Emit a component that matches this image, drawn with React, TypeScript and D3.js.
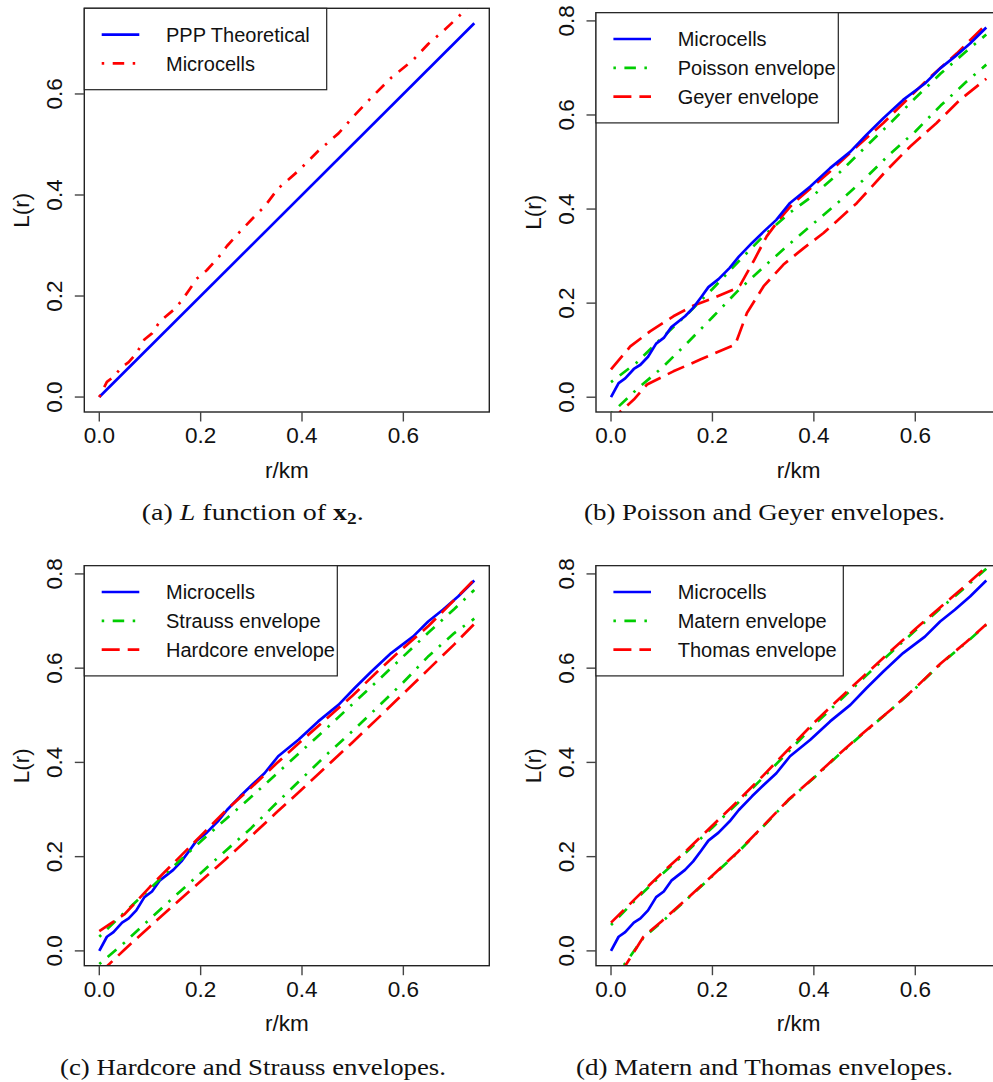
import React from 'react';
import * as d3 from 'd3';

const W = 993;
const H = 1082;
const BLUE = '#0000FF';
const RED = '#FF0000';
const GREEN = '#00CD00';
const SOLID = 'none';
const DOTDASH = '2.5,8.5,11.5,8.5';
const LONGDASH = '18,8';
const SANS = '"Liberation Sans", Arial, Helvetica, sans-serif';
const SERIF = '"Liberation Serif", "Times New Roman", serif';

// ---- tick values / labels ----
const xTicks = [0, 0.2, 0.4, 0.6];
const xTickLabels = ['0.0', '0.2', '0.4', '0.6'];
const yTicksA = [0, 0.2, 0.4, 0.6];
const yTickLabelsA = ['0.0', '0.2', '0.4', '0.6'];
const yTicksBCD = [0, 0.2, 0.4, 0.6, 0.8];
const yTickLabelsBCD = ['0.0', '0.2', '0.4', '0.6', '0.8'];

// ---- data ----
const pppR = [0, 0.74];
const pppL = [0, 0.74];

const microcellsR = [0, 0.015, 0.028, 0.045, 0.058, 0.073, 0.089, 0.104, 0.119, 0.146, 0.162, 0.178, 0.192, 0.212, 0.234, 0.252, 0.278, 0.301, 0.326, 0.353, 0.393, 0.432, 0.472, 0.504, 0.537, 0.576, 0.619, 0.649, 0.678, 0.708, 0.74];
const microcellsL = [0, 0.030, 0.040, 0.060, 0.069, 0.086, 0.114, 0.126, 0.149, 0.172, 0.190, 0.213, 0.234, 0.251, 0.275, 0.299, 0.328, 0.352, 0.377, 0.413, 0.448, 0.487, 0.522, 0.558, 0.593, 0.632, 0.667, 0.699, 0.724, 0.752, 0.786];

const rGrid = [0, 0.05, 0.1, 0.15, 0.2, 0.25, 0.3, 0.35, 0.4, 0.45, 0.5, 0.55, 0.6, 0.65, 0.7, 0.74];

// (b) Poisson & Geyer
const poissonUpper = [0.032, 0.073, 0.126, 0.176, 0.230, 0.287, 0.342, 0.390, 0.430, 0.477, 0.530, 0.582, 0.636, 0.688, 0.735, 0.771];
const poissonLower = [-0.035, 0.016, 0.062, 0.115, 0.170, 0.226, 0.276, 0.324, 0.370, 0.416, 0.464, 0.517, 0.565, 0.620, 0.670, 0.707];
const geyerUpperR = [0, 0.038, 0.077, 0.123, 0.163, 0.202, 0.242, 0.255, 0.281, 0.307, 0.334, 0.360, 0.432, 0.485, 0.537, 0.583, 0.629, 0.682, 0.74];
const geyerUpperL = [0.059, 0.108, 0.140, 0.172, 0.195, 0.211, 0.229, 0.239, 0.289, 0.342, 0.381, 0.413, 0.480, 0.533, 0.583, 0.632, 0.680, 0.731, 0.793];
const geyerLowerR = [0, 0.018, 0.045, 0.071, 0.123, 0.176, 0.245, 0.268, 0.301, 0.340, 0.380, 0.419, 0.485, 0.544, 0.590, 0.642, 0.688, 0.74];
const geyerLowerL = [-0.060, -0.031, -0.005, 0.027, 0.055, 0.080, 0.112, 0.179, 0.236, 0.282, 0.317, 0.349, 0.413, 0.483, 0.533, 0.583, 0.632, 0.677];

// (c) Strauss & Hardcore
const straussUpper = [0.030, 0.082, 0.132, 0.183, 0.232, 0.280, 0.327, 0.376, 0.425, 0.474, 0.524, 0.574, 0.625, 0.676, 0.725, 0.766];
const straussLower = [-0.028, 0.018, 0.068, 0.117, 0.165, 0.213, 0.261, 0.314, 0.366, 0.418, 0.467, 0.518, 0.570, 0.626, 0.674, 0.705];
const hardcoreUpper = [0.042, 0.078, 0.136, 0.190, 0.244, 0.298, 0.347, 0.398, 0.447, 0.494, 0.542, 0.594, 0.643, 0.690, 0.744, 0.788];
const hardcoreLower = [-0.048, 0.003, 0.052, 0.100, 0.148, 0.195, 0.244, 0.294, 0.343, 0.393, 0.443, 0.494, 0.546, 0.598, 0.650, 0.694];

// (d) Matern & Thomas
const thomasUpper = [0.060, 0.113, 0.165, 0.214, 0.266, 0.318, 0.372, 0.428, 0.484, 0.535, 0.585, 0.635, 0.683, 0.730, 0.776, 0.815];
const maternUpper = [0.055, 0.110, 0.162, 0.211, 0.262, 0.314, 0.368, 0.423, 0.479, 0.530, 0.581, 0.631, 0.680, 0.727, 0.773, 0.811];
const thomasLowerR = [0, 0.02, 0.035, 0.064, 0.1, 0.15, 0.2, 0.25, 0.3, 0.35, 0.4, 0.45, 0.5, 0.55, 0.6, 0.65, 0.7, 0.74];
const thomasLowerL = [-0.10, -0.045, -0.020, 0.030, 0.063, 0.111, 0.160, 0.210, 0.265, 0.321, 0.368, 0.418, 0.465, 0.510, 0.558, 0.610, 0.655, 0.693];
const maternLowerR = [0, 0.025, 0.064, 0.1, 0.15, 0.2, 0.25, 0.3, 0.35, 0.4, 0.45, 0.5, 0.55, 0.6, 0.65, 0.7, 0.74];
const maternLowerL = [-0.09, -0.031, 0.028, 0.061, 0.110, 0.159, 0.209, 0.264, 0.320, 0.367, 0.417, 0.464, 0.510, 0.557, 0.609, 0.654, 0.692];

type Series = { r: number[]; L: number[]; color: string; dash: string };
type LegendItem = { label: string; color: string; dash: string };
type Box = { l: number; t: number; r: number; b: number };

const pad = (lo: number, hi: number) => {
  const d = hi - lo;
  return [lo - 0.04 * d, hi + 0.04 * d];
};

function Panel(props: {
  id: string;
  box: Box;
  yData: [number, number];
  yTicks: number[];
  yTickLabels: string[];
  series: Series[];
  legend: LegendItem[];
  legendW: number;
}) {
  const { id, box, yData, yTicks, yTickLabels, series, legend, legendW } = props;
  const x = d3.scaleLinear().domain(pad(0, 0.74)).range([box.l, box.r]);
  const y = d3.scaleLinear().domain(pad(yData[0], yData[1])).range([box.b, box.t]);
  const line = (s: Series) =>
    d3
      .line<number>()
      .x((_, i) => x(s.r[i]))
      .y((v) => y(v))(s.L) || '';
  const axisColor = '#222';
  const legendH = 26.3 * 2 + (legend.length - 1) * 28.8;
  const cy = (box.t + box.b) / 2;
  const cx = (box.l + box.r) / 2;
  return (
    <g>
      <defs>
        <clipPath id={`clip-${id}`}>
          <rect x={box.l} y={box.t} width={box.r - box.l} height={box.b - box.t} />
        </clipPath>
      </defs>
      <g clipPath={`url(#clip-${id})`}>
        {series.map((s, i) => (
          <path
            key={i}
            d={line(s)}
            fill="none"
            stroke={s.color}
            strokeWidth={2.7}
            strokeDasharray={s.dash}
            strokeLinejoin="round"
          />
        ))}
      </g>
      <rect x={box.l} y={box.t} width={box.r - box.l} height={box.b - box.t} fill="none" stroke={axisColor} strokeWidth={1.4} />
      {xTicks.map((v, i) => (
        <g key={`xt${i}`}>
          <line x1={x(v)} x2={x(v)} y1={box.b} y2={box.b + 9.5} stroke="#444" strokeWidth={1.4} />
          <text x={x(v)} y={box.b + 31.3} textAnchor="middle" fontFamily={SANS} fontSize={22.5} fill="#111">
            {xTickLabels[i]}
          </text>
        </g>
      ))}
      {yTicks.map((v, i) => (
        <g key={`yt${i}`}>
          <line x1={box.l} x2={box.l - 9.5} y1={y(v)} y2={y(v)} stroke="#444" strokeWidth={1.4} />
          <text
            transform={`translate(${box.l - 22.5},${y(v)}) rotate(-90)`}
            textAnchor="middle"
            fontFamily={SANS}
            fontSize={22.5}
            fill="#111"
          >
            {yTickLabels[i]}
          </text>
        </g>
      ))}
      <text x={cx} y={box.b + 65.5} textAnchor="middle" fontFamily={SANS} fontSize={22.5} fill="#111">
        r/km
      </text>
      <text
        transform={`translate(${box.l - 55.5},${cy}) rotate(-90)`}
        textAnchor="middle"
        fontFamily={SANS}
        fontSize={22.5}
        fill="#111"
      >
        L(r)
      </text>
      <rect x={box.l} y={box.t} width={legendW} height={legendH} fill="white" stroke={axisColor} strokeWidth={1.2} />
      {legend.map((it, i) => {
        const ry = box.t + 26.3 + i * 28.8;
        return (
          <g key={`lg${i}`}>
            <line
              x1={box.l + 17.4}
              x2={box.l + 55}
              y1={ry}
              y2={ry}
              stroke={it.color}
              strokeWidth={2.7}
              strokeDasharray={it.dash}
            />
            <text x={box.l + 81.7} y={ry + 7.3} fontFamily={SANS} fontSize={20} fill="#111">
              {it.label}
            </text>
          </g>
        );
      })}
    </g>
  );
}

export default function App() {
  const micro = (color: string, dash: string): Series => ({ r: microcellsR, L: microcellsL, color, dash });
  const grid = (L: number[], color: string, dash: string): Series => ({ r: rGrid, L, color, dash });
  return (
    <svg
      width={W}
      height={H}
      viewBox={`0 0 ${W} ${H}`}
      style={{ position: 'absolute', left: 0, top: 0, background: 'white' }}
    >
      <rect x={0} y={0} width={W} height={H} fill="white" />
      <Panel
        id="a"
        box={{ l: 84.3, t: 8.3, r: 489.3, b: 412 }}
        yData={[0, 0.74]}
        yTicks={yTicksA}
        yTickLabels={yTickLabelsA}
        series={[
          { r: pppR, L: pppL, color: BLUE, dash: SOLID },
          micro(RED, DOTDASH),
        ]}
        legend={[
          { label: 'PPP Theoretical', color: BLUE, dash: SOLID },
          { label: 'Microcells', color: RED, dash: DOTDASH },
        ]}
        legendW={242.4}
      />
      <Panel
        id="b"
        box={{ l: 596, t: 12.7, r: 1001.3, b: 412 }}
        yData={[0, 0.786]}
        yTicks={yTicksBCD}
        yTickLabels={yTickLabelsBCD}
        series={[
          grid(poissonUpper, GREEN, DOTDASH),
          grid(poissonLower, GREEN, DOTDASH),
          { r: geyerUpperR, L: geyerUpperL, color: RED, dash: LONGDASH },
          { r: geyerLowerR, L: geyerLowerL, color: RED, dash: LONGDASH },
          micro(BLUE, SOLID),
        ]}
        legend={[
          { label: 'Microcells', color: BLUE, dash: SOLID },
          { label: 'Poisson envelope', color: GREEN, dash: DOTDASH },
          { label: 'Geyer envelope', color: RED, dash: LONGDASH },
        ]}
        legendW={242.3}
      />
      <Panel
        id="c"
        box={{ l: 84.3, t: 565.7, r: 489.3, b: 965.7 }}
        yData={[0, 0.786]}
        yTicks={yTicksBCD}
        yTickLabels={yTickLabelsBCD}
        series={[
          micro(BLUE, SOLID),
          grid(straussUpper, GREEN, DOTDASH),
          grid(straussLower, GREEN, DOTDASH),
          grid(hardcoreUpper, RED, LONGDASH),
          grid(hardcoreLower, RED, LONGDASH),
        ]}
        legend={[
          { label: 'Microcells', color: BLUE, dash: SOLID },
          { label: 'Strauss envelope', color: GREEN, dash: DOTDASH },
          { label: 'Hardcore envelope', color: RED, dash: LONGDASH },
        ]}
        legendW={253}
      />
      <Panel
        id="d"
        box={{ l: 596, t: 565.7, r: 1001.3, b: 965.7 }}
        yData={[0, 0.786]}
        yTicks={yTicksBCD}
        yTickLabels={yTickLabelsBCD}
        series={[
          micro(BLUE, SOLID),
          grid(maternUpper, GREEN, DOTDASH),
          { r: maternLowerR, L: maternLowerL, color: GREEN, dash: DOTDASH },
          grid(thomasUpper, RED, LONGDASH),
          { r: thomasLowerR, L: thomasLowerL, color: RED, dash: LONGDASH },
        ]}
        legend={[
          { label: 'Microcells', color: BLUE, dash: SOLID },
          { label: 'Matern envelope', color: GREEN, dash: DOTDASH },
          { label: 'Thomas envelope', color: RED, dash: LONGDASH },
        ]}
        legendW={247.3}
      />
      {/* captions */}
      <text x={141.7} y={520} fontFamily={SERIF} fontSize={23} fill="#111" textLength={222} lengthAdjust="spacingAndGlyphs">
        (a) <tspan fontStyle="italic">L</tspan> function of <tspan fontWeight="bold">x</tspan>
        <tspan fontWeight="bold" fontSize={16} dy={4}>2</tspan>
        <tspan dy={-4}>.</tspan>
      </text>
      <text x={584} y={520} fontFamily={SERIF} fontSize={23} fill="#111" textLength={361} lengthAdjust="spacingAndGlyphs">
        (b) Poisson and Geyer envelopes.
      </text>
      <text x={60} y={1075} fontFamily={SERIF} fontSize={23} fill="#111" textLength={386} lengthAdjust="spacingAndGlyphs">
        (c) Hardcore and Strauss envelopes.
      </text>
      <text x={576} y={1075} fontFamily={SERIF} fontSize={23} fill="#111" textLength={377} lengthAdjust="spacingAndGlyphs">
        (d) Matern and Thomas envelopes.
      </text>
    </svg>
  );
}
